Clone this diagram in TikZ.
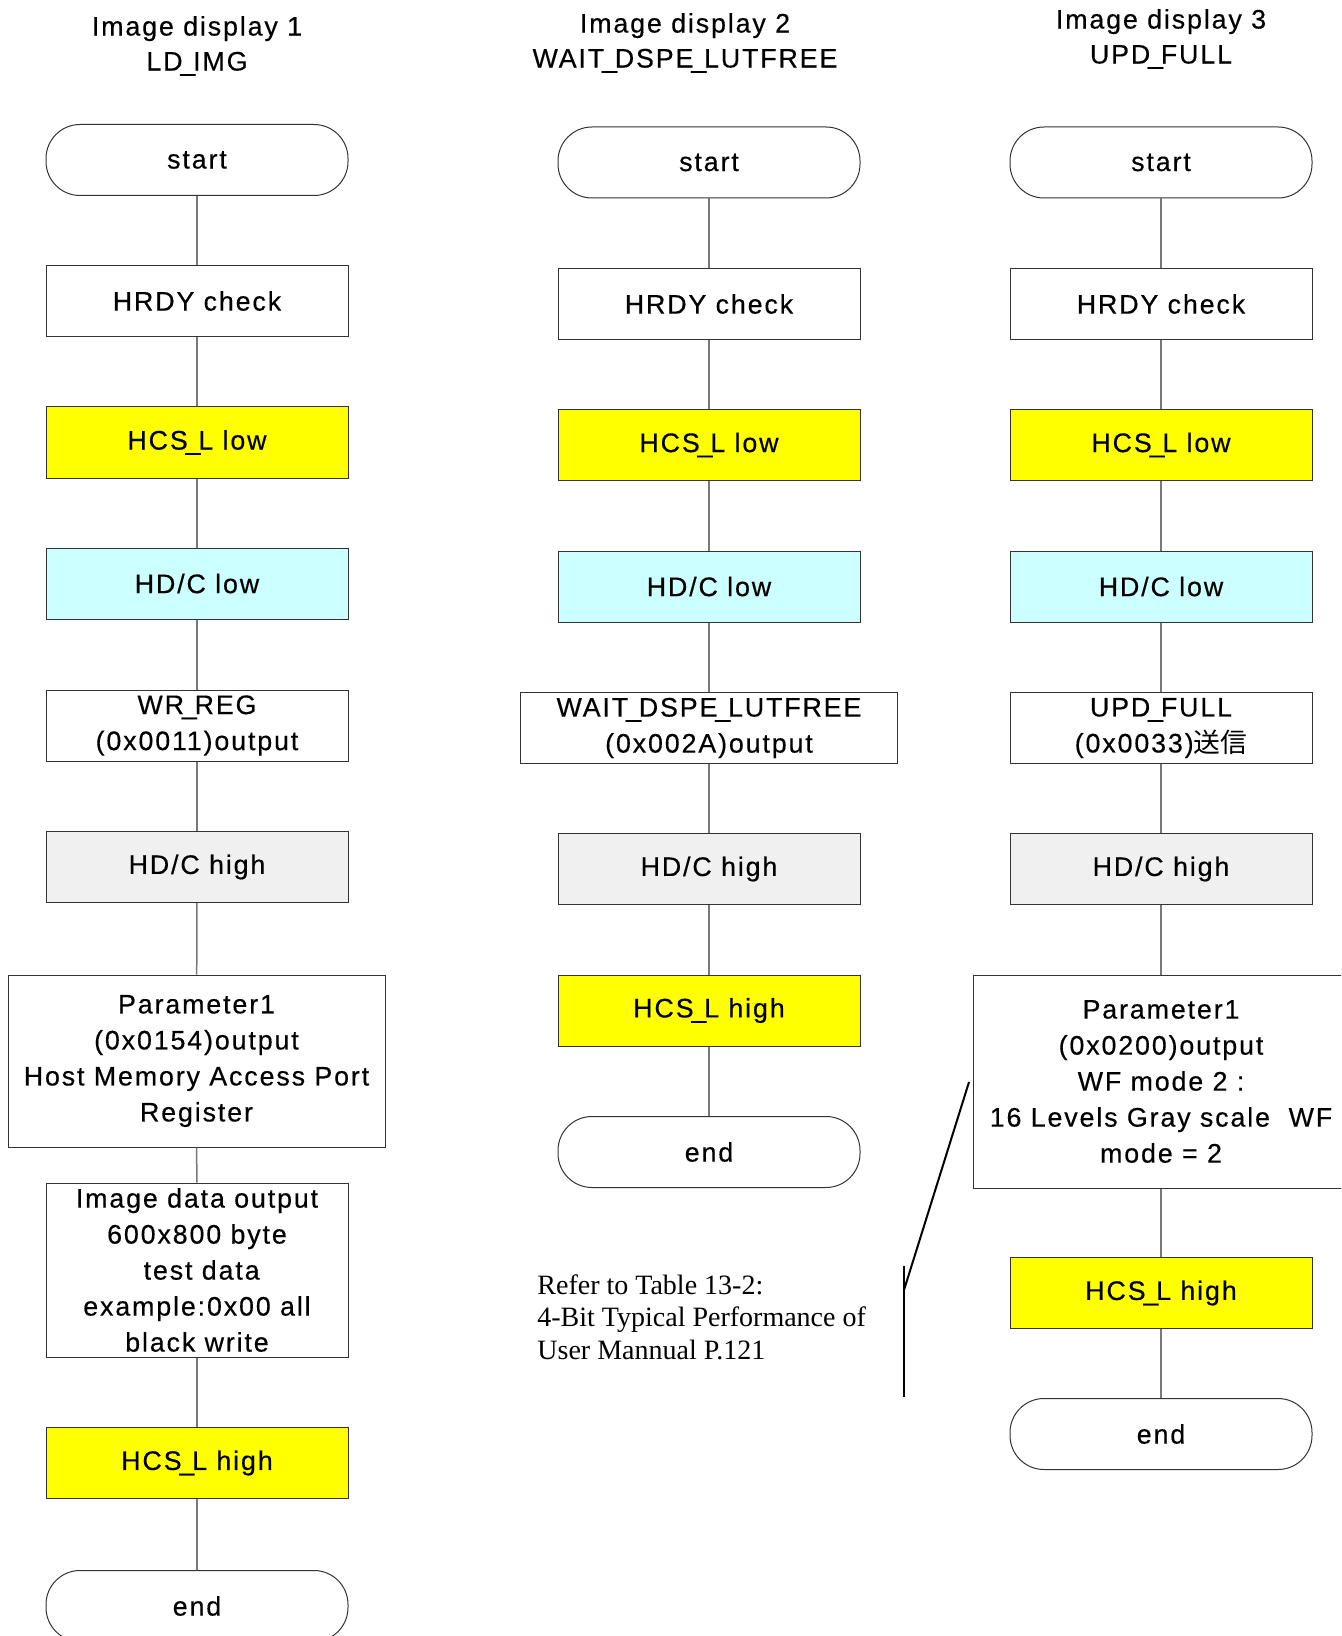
\documentclass[tikz,border=0pt]{standalone}
\usepackage{fontspec}
\setmainfont{Liberation Serif}
\newfontfamily\gothic[LetterSpace=7,FakeBold=0.4]{Liberation Sans}
\newfontfamily\jpfont{Noto Sans CJK JP}
% narrow underscore for the register names
\newcommand\usc{\kern-0.08em\_\kern-0.08em}
\definecolor{hcsyellow}{RGB}{255,255,0}
\definecolor{dclow}{RGB}{204,255,255}
\definecolor{dchigh}{RGB}{240,240,240}
\definecolor{linkgray}{RGB}{120,120,120}
\tikzset{
  box/.style={draw=black!80, line width=0.5pt, minimum width=151pt, minimum height=35.5pt,
    inner sep=0pt, align=center, font=\gothic\fontsize{13.4}{18}\selectfont},
  term/.style={box, rounded corners=17pt},
  hcs/.style={box, fill=hcsyellow},
  dcl/.style={box, fill=dclow},
  dch/.style={box, fill=dchigh},
  title/.style={font=\gothic\fontsize{13.4}{17.5}\selectfont, align=center, inner sep=0pt},
  link/.style={draw=linkgray, line width=0.75pt},
  callout/.style={draw=black, line width=1pt}
}
\begin{document}
\begin{tikzpicture}[x=0.5pt,y=-0.5pt]
\useasboundingbox (0,0) rectangle (1341,1636);
\clip (0,0) rectangle (1341,1636);

% ---------- column 1: LD_IMG ----------
\node[title] (t1) at (197,46) {Image display 1\\LD\usc IMG};
\node[term] (a1) at (197,160) {start};
\node[box]  (a2) at (197,301) {HRDY check};
\node[hcs]  (a3) at (197,442.5) {HCS\usc L low};
\node[dcl]  (a4) at (197,583.5) {HD/C low};
\node[box]  (a5) at (197,725.5) {WR\usc REG\\(0x0011)output};
\node[dch]  (a6) at (197,867) {HD/C high};
\node[box, minimum width=188.5pt, minimum height=86pt] (a7) at (196.5,1061)
  {Parameter1\\(0x0154)output\\Host Memory Access Port\\Register};
\node[box, minimum height=87pt] (a8) at (197,1270)
  {Image data output\\600x800 byte\\\ test data\\example:0x00 all\ \\black write};
\node[hcs]  (a9) at (197,1463) {HCS\usc L high};
\node[term] (a10) at (197,1606) {end};
\foreach \i/\j in {a1/a2,a2/a3,a3/a4,a4/a5,a5/a6,a6/a7,a7/a8,a8/a9,a9/a10}
  \draw[link] (\i) -- (\j);

% ---------- column 2: WAIT_DSPE_LUTFREE ----------
\node[title] (t2) at (685,43) {Image display 2\\WAIT\usc DSPE\usc LUTFREE};
\node[term] (b1) at (709,162.5) {start};
\node[box]  (b2) at (709,304) {HRDY check};
\node[hcs]  (b3) at (709,445) {HCS\usc L low};
\node[dcl]  (b4) at (709,586.5) {HD/C low};
\node[box, minimum width=188.5pt] (b5) at (709,728) {WAIT\usc DSPE\usc LUTFREE\\(0x002A)output};
\node[dch]  (b6) at (709,869) {HD/C high};
\node[hcs]  (b7) at (709,1010.5) {HCS\usc L high};
\node[term] (b8) at (709,1152) {end};
\foreach \i/\j in {b1/b2,b2/b3,b3/b4,b4/b5,b5/b6,b6/b7,b7/b8}
  \draw[link] (\i) -- (\j);

% ---------- column 3: UPD_FULL ----------
\node[title] (t3) at (1161,39) {Image display 3\\UPD\usc FULL};
\node[term] (c1) at (1161,162.5) {start};
\node[box]  (c2) at (1161,304) {HRDY check};
\node[hcs]  (c3) at (1161,445) {HCS\usc L low};
\node[dcl]  (c4) at (1161,586.5) {HD/C low};
\node[box]  (c5) at (1161,728) {UPD\usc FULL\\(0x0033){\jpfont 送信}};
\node[dch]  (c6) at (1161,869) {HD/C high};
\node[box, minimum width=188pt, minimum height=106.5pt] (c7) at (1161,1081.5)
  {Parameter1\\(0x0200)output\\WF mode 2 :\\16 Levels Gray scale\ \ WF\\mode = 2};
\node[hcs]  (c8) at (1161,1293) {HCS\usc L high};
\node[term] (c9) at (1161,1434) {end};
\foreach \i/\j in {c1/c2,c2/c3,c3/c4,c4/c5,c5/c6,c6/c7,c7/c8,c8/c9}
  \draw[link] (\i) -- (\j);

% ---------- note with line callout ----------
\node[anchor=base west, align=left, inner sep=0pt,
  font=\fontsize{14}{16.25}\selectfont] (note) at (537,1359)
  {Refer to Table 13-2:\\4-Bit Typical Performance of\\User Mannual P.121};
\coordinate (bartop) at (904,1266);
\coordinate (barbot) at (904,1397);
\coordinate (barjoin) at (904,1290);
\coordinate (tip) at (969,1082);
\draw[callout] (bartop) -- (barbot);
\draw[callout] (barjoin) -- (tip);
\end{tikzpicture}
\end{document}
